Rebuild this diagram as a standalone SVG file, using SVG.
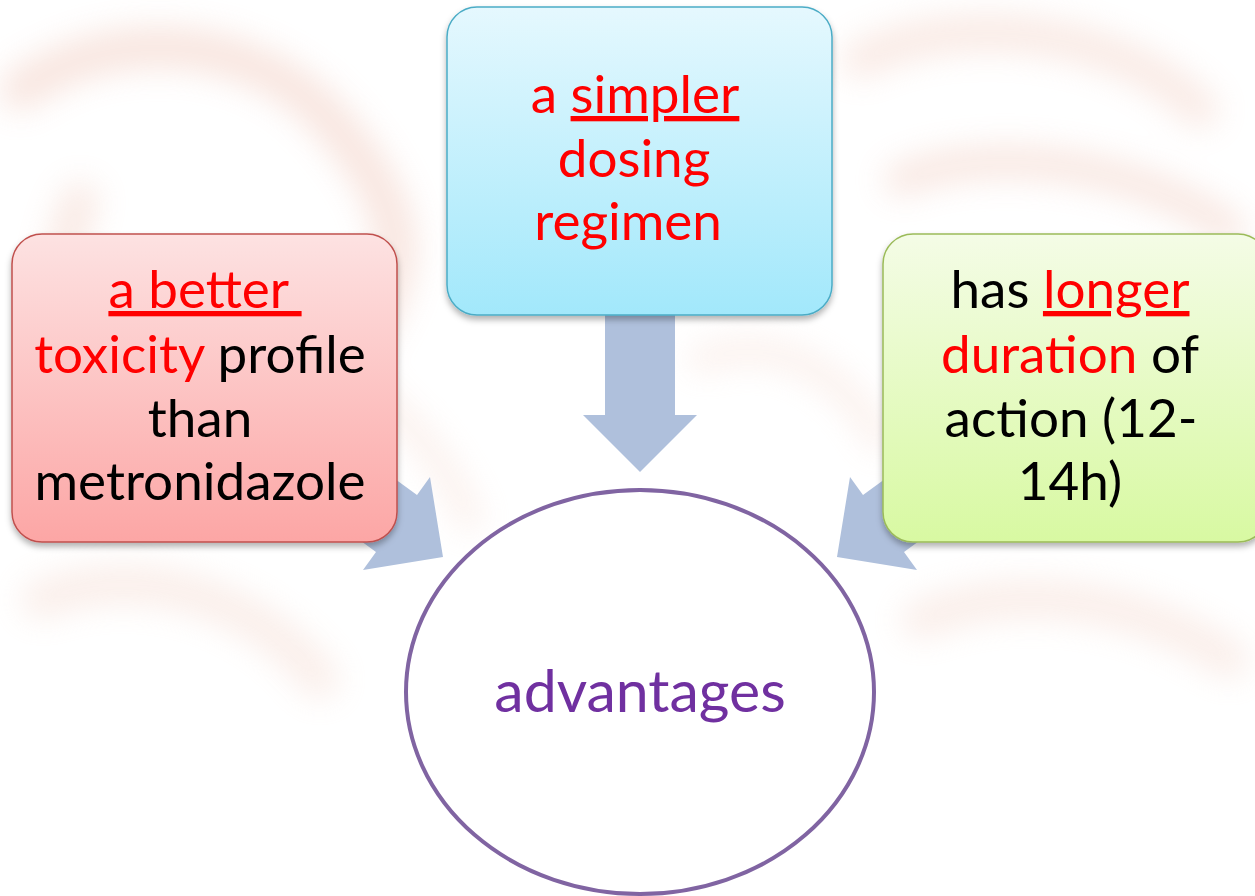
<svg xmlns="http://www.w3.org/2000/svg" width="1255" height="896" viewBox="0 0 1255 896">
  <style>
    .t { font-family: Lato, "Open Sans", "Liberation Sans", sans-serif; font-size: 53px; text-anchor: middle; fill: #000; }
    .red { fill: #ff0000; }
    .u { text-decoration: underline; }
    .conn { fill: #afc0dc; }
    .bg { fill: none; stroke-linecap: round; }
  </style>
  <defs>
    <linearGradient id="gRed" x1="0" y1="0" x2="0" y2="1">
      <stop offset="0" stop-color="#fde2e2"/>
      <stop offset="1" stop-color="#fca6a5"/>
    </linearGradient>
    <linearGradient id="gBlue" x1="0" y1="0" x2="0" y2="1">
      <stop offset="0" stop-color="#e5f8fe"/>
      <stop offset="1" stop-color="#a2e8fb"/>
    </linearGradient>
    <linearGradient id="gGreen" x1="0" y1="0" x2="0" y2="1">
      <stop offset="0" stop-color="#f4fce6"/>
      <stop offset="1" stop-color="#d8f9a2"/>
    </linearGradient>
    <filter id="shadow" x="-10%" y="-10%" width="120%" height="125%">
      <feDropShadow dx="0" dy="4" stdDeviation="3" flood-color="#000" flood-opacity="0.3"/>
    </filter>
    <filter id="blur" x="-20%" y="-20%" width="140%" height="140%">
      <feGaussianBlur stdDeviation="16"/>
    </filter>
  </defs>

  <rect width="1255" height="896" fill="#ffffff"/>
  <g id="background" filter="url(#blur)" opacity="0.45">
    <path class="bg" d="M20 90 C120 20 260 40 330 120 S420 260 360 340" stroke="#f0c6b8" stroke-width="40"/>
    <path class="bg" d="M80 200 C40 300 60 420 140 470" stroke="#f2cfc2" stroke-width="36"/>
    <path class="bg" d="M860 60 C960 10 1120 30 1200 110" stroke="#f3d0c4" stroke-width="36"/>
    <path class="bg" d="M900 180 C1000 140 1150 170 1230 230" stroke="#f0c8ba" stroke-width="30"/>
    <path class="bg" d="M40 600 C140 560 260 600 320 680" stroke="#f4d8cd" stroke-width="36"/>
    <path class="bg" d="M920 620 C1020 580 1140 600 1230 660" stroke="#f4d8cd" stroke-width="36"/>
    <path class="bg" d="M360 380 C420 430 450 470 470 520" stroke="#f6ddd3" stroke-width="24"/>
    <path class="bg" d="M700 360 C780 330 850 380 880 440" stroke="#f6ddd3" stroke-width="24"/>
  </g>

  <g id="connectors">
    <polygon class="conn" points="605,300 675,300 675,415 697,415 640,472 583,415 605,415"/>
    <polygon class="conn" points="336,436 417,495 430,477 443,557 363,570 376,552 295,493"/>
    <polygon class="conn" points="944,436 863,495 850,477 837,557 917,570 904,552 985,493"/>
  </g>

  <g id="node-toxicity">
    <rect x="12" y="234" width="385" height="308" rx="30" fill="url(#gRed)" stroke="#c0504d" stroke-width="1.5" filter="url(#shadow)"/>
    <text class="t" style="white-space:pre"><tspan x="205" y="308" class="red u">a better </tspan></text>
    <text class="t"><tspan x="200" y="373"><tspan class="red">toxicity</tspan> profile</tspan><tspan x="200" y="437">than</tspan><tspan x="200" y="500">metronidazole</tspan></text>
  </g>

  <g id="node-dosing">
    <rect x="447" y="7" width="385" height="308" rx="30" fill="url(#gBlue)" stroke="#4bacc6" stroke-width="1.5" filter="url(#shadow)"/>
    <text class="t red"><tspan x="635" y="113">a <tspan class="u">simpler</tspan></tspan><tspan x="634" y="177">dosing</tspan><tspan x="628" y="240">regimen</tspan></text>
  </g>

  <g id="node-duration">
    <rect x="883" y="234" width="385" height="308" rx="30" fill="url(#gGreen)" stroke="#9bbb59" stroke-width="1.5" filter="url(#shadow)"/>
    <text class="t"><tspan x="1070" y="308">has <tspan class="red u">longer</tspan></tspan><tspan x="1070" y="373"><tspan class="red">duration</tspan> of</tspan><tspan x="1071" y="437">action (12-</tspan><tspan x="1070" y="500">14h)</tspan></text>
  </g>

  <g id="node-advantages">
    <ellipse cx="640" cy="692" rx="234" ry="202" fill="#ffffff" stroke="#8064a2" stroke-width="4"/>
    <text class="t" x="640" y="712" style="fill:#7030a0;font-size:59px">advantages</text>
  </g>
</svg>
